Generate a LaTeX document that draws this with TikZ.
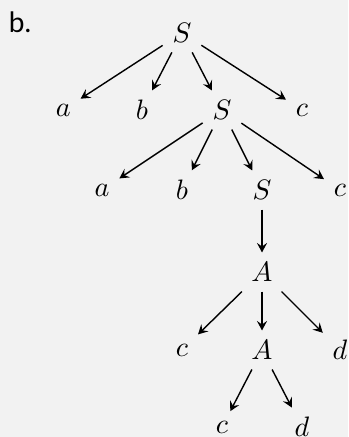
\documentclass[tikz,border=0pt]{standalone}
\usepackage{fontspec}
\newfontfamily\labelfont{Lato}
\usepackage{xcolor}
\usepackage{tikz}
\usetikzlibrary{positioning, arrows.meta}
\definecolor{bggray}{HTML}{F2F2F2}
\tikzset{
  sym/.style={inner sep=0.333em},
  arrow/.style={-{Stealth[length=3.4pt, width=3.6pt, inset=1.3pt]}, line width=0.5pt, black}
}
\begin{document}
\begin{tikzpicture}
  \fill[bggray] (0,0) rectangle (4.35,-5.4625);
  \useasboundingbox (0,0) rectangle (4.35,-5.4625);
  \node[font=\labelfont] (lbl) at (0.25,-0.28) {b.};
  % level 0
  \node[sym] (s1) at (2.275,-0.41) {$S$};
  % level 1
  \node[sym] (a1) at (0.79,-1.375) {$a$};
  \node[sym] (b1) at (1.775,-1.375) {$b$};
  \node[sym] (s2) at (2.775,-1.375) {$S$};
  \node[sym] (c1) at (3.775,-1.375) {$c$};
  % level 2
  \node[sym] (a2) at (1.275,-2.375) {$a$};
  \node[sym] (b2) at (2.275,-2.375) {$b$};
  \node[sym] (s3) at (3.275,-2.375) {$S$};
  \node[sym] (c2) at (4.25,-2.375) {$c$};
  % level 3
  \node[sym] (A1) at (3.275,-3.4) {$A$};
  % level 4
  \node[sym] (c3) at (2.275,-4.375) {$c$};
  \node[sym] (A2) at (3.275,-4.375) {$A$};
  \node[sym] (d1) at (4.25,-4.375) {$d$};
  % level 5
  \node[sym] (c4) at (2.775,-5.34) {$c$};
  \node[sym] (d2) at (3.775,-5.34) {$d$};
  \foreach \p/\c in {s1/a1, s1/b1, s1/s2, s1/c1,
                     s2/a2, s2/b2, s2/s3, s2/c2,
                     s3/A1,
                     A1/c3, A1/A2, A1/d1,
                     A2/c4, A2/d2}
    \draw[arrow] (\p) -- (\c);
\end{tikzpicture}
\end{document}
